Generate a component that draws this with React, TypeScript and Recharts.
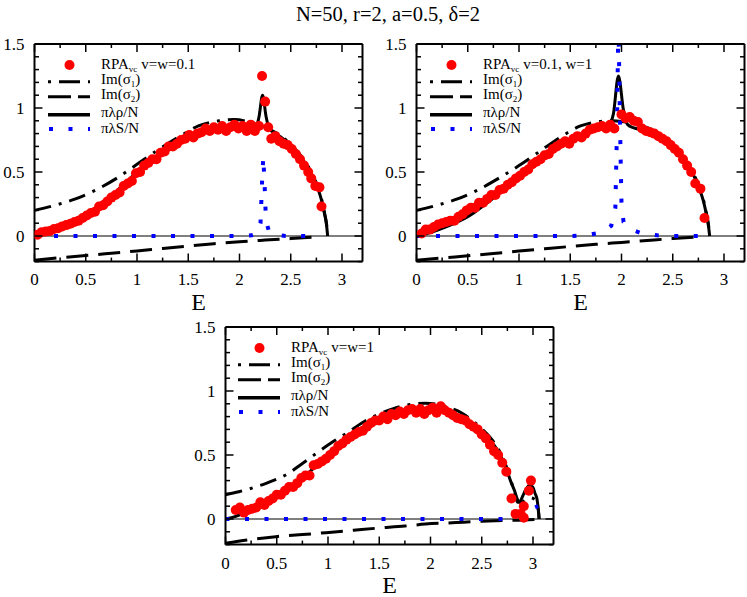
import React from "react";
import {
  ComposedChart, Line, Scatter, XAxis, YAxis, ReferenceLine, Legend,
} from "recharts";

const RED = "#ff0000";
const BLUE = "#0000ff";
const FONT = '"Liberation Serif", Tinos, "Times New Roman", Times, serif';

const X_TICKS = [0, 0.25, 0.5, 0.75, 1, 1.25, 1.5, 1.75, 2, 2.25, 2.5, 2.75, 3];
const Y_TICKS = [-0.2, -0.1, 0, 0.1, 0.2, 0.3, 0.4, 0.5, 0.6, 0.7, 0.8, 0.9, 1, 1.1, 1.2, 1.3, 1.4, 1.5];

// ---- panel 1: v=w=0.1 ----
const rpaA = [
  [0.03, 0.01], [0.07, 0.03], [0.11, 0.035], [0.15, 0.04], [0.19, 0.055], [0.23, 0.06], [0.27, 0.075],
  [0.31, 0.085], [0.35, 0.095], [0.39, 0.11], [0.43, 0.12], [0.47, 0.14], [0.51, 0.16], [0.55, 0.18],
  [0.59, 0.19], [0.63, 0.23], [0.67, 0.24], [0.71, 0.27], [0.75, 0.3], [0.79, 0.32], [0.83, 0.34],
  [0.87, 0.39], [0.91, 0.41], [0.95, 0.43], [0.99, 0.49], [1.03, 0.5], [1.07, 0.55], [1.11, 0.57],
  [1.15, 0.6], [1.19, 0.6], [1.23, 0.65], [1.27, 0.66], [1.31, 0.7], [1.35, 0.7], [1.39, 0.72],
  [1.43, 0.75], [1.47, 0.76], [1.51, 0.79], [1.55, 0.77], [1.59, 0.8], [1.63, 0.81], [1.67, 0.84],
  [1.71, 0.82], [1.75, 0.85], [1.79, 0.83], [1.83, 0.86], [1.87, 0.82], [1.91, 0.85], [1.95, 0.87],
  [1.99, 0.84], [2.03, 0.86], [2.07, 0.82], [2.11, 0.87], [2.15, 0.82], [2.19, 0.86], [2.22, 1.25],
  [2.25, 1.05], [2.28, 0.85], [2.31, 0.76], [2.35, 0.78], [2.39, 0.74], [2.43, 0.72], [2.47, 0.71],
  [2.51, 0.68], [2.55, 0.64], [2.59, 0.6], [2.63, 0.55], [2.67, 0.5], [2.7, 0.45], [2.74, 0.39],
  [2.78, 0.38], [2.8, 0.23],
];
const sigma1A = [
  [0, 0.2], [0.2, 0.24], [0.4, 0.29], [0.6, 0.36], [0.8, 0.45], [1.0, 0.56], [1.2, 0.67], [1.4, 0.77],
  [1.6, 0.86], [1.8, 0.9], [1.95, 0.91], [2.1, 0.89], [2.2, 0.865], [2.3, 0.83], [2.4, 0.785],
  [2.5, 0.715], [2.6, 0.625], [2.7, 0.5], [2.76, 0.39], [2.8, 0.29], [2.83, 0.18], [2.85, 0.09], [2.86, 0],
];
const sigma2A = [
  [0, -0.19], [0.25, -0.17], [0.5, -0.153], [0.75, -0.135], [1.0, -0.117], [1.25, -0.097],
  [1.5, -0.078], [1.75, -0.06], [2.0, -0.045], [2.25, -0.032], [2.5, -0.02], [2.78, -0.006],
];
const rhoA = [
  [0, 0], [0.1, 0.02], [0.2, 0.045], [0.3, 0.077], [0.4, 0.112], [0.5, 0.155], [0.6, 0.222],
  [0.7, 0.287], [0.8, 0.35], [0.9, 0.425], [1.0, 0.5], [1.1, 0.57], [1.2, 0.632], [1.3, 0.685],
  [1.4, 0.73], [1.5, 0.768], [1.6, 0.8], [1.7, 0.83], [1.8, 0.85], [1.9, 0.86], [2.0, 0.862],
  [2.1, 0.857], [2.16, 0.85], [2.19, 0.93], [2.225, 1.1], [2.26, 0.93], [2.29, 0.84], [2.35, 0.8],
  [2.4, 0.775], [2.5, 0.705], [2.6, 0.615], [2.7, 0.49], [2.76, 0.38], [2.8, 0.28], [2.83, 0.17],
  [2.85, 0.08], [2.86, 0],
];
const specA = [
  [0, 0], [0.5, 0], [1.0, 0], [1.5, 0], [2.0, 0], [2.12, 0.005], [2.18, 0.02], [2.205, 0.1],
  [2.22, 0.42], [2.232, 0.62], [2.245, 0.4], [2.258, 0.12], [2.29, 0.03], [2.35, 0.01], [2.45, 0], [2.72, 0],
];

// ---- panel 2: v=0.1, w=1 ----
const rpaB = [
  [0.05, 0.02], [0.09, 0.05], [0.13, 0.05], [0.17, 0.07], [0.21, 0.09], [0.25, 0.1], [0.29, 0.11],
  [0.33, 0.12], [0.37, 0.12], [0.41, 0.15], [0.45, 0.17], [0.49, 0.2], [0.53, 0.22], [0.57, 0.22],
  [0.61, 0.26], [0.65, 0.26], [0.69, 0.29], [0.73, 0.32], [0.77, 0.32], [0.81, 0.36], [0.85, 0.37],
  [0.89, 0.4], [0.93, 0.42], [0.97, 0.45], [1.01, 0.47], [1.05, 0.5], [1.09, 0.52], [1.13, 0.56],
  [1.17, 0.58], [1.21, 0.6], [1.25, 0.63], [1.29, 0.64], [1.33, 0.68], [1.37, 0.7], [1.41, 0.72],
  [1.45, 0.74], [1.49, 0.72], [1.53, 0.76], [1.57, 0.78], [1.61, 0.77], [1.65, 0.8], [1.69, 0.83],
  [1.73, 0.84], [1.77, 0.85], [1.81, 0.86], [1.85, 0.84], [1.89, 0.87], [1.93, 0.84], [2.0, 0.95],
  [2.04, 0.92], [2.08, 0.93], [2.12, 0.9], [2.16, 0.89], [2.2, 0.84], [2.24, 0.82], [2.28, 0.81],
  [2.32, 0.8], [2.36, 0.78], [2.4, 0.76], [2.44, 0.74], [2.48, 0.71], [2.52, 0.68], [2.56, 0.65],
  [2.6, 0.6], [2.64, 0.55], [2.68, 0.5], [2.72, 0.41], [2.77, 0.37], [2.81, 0.14],
];
const sigma1B = [
  [0, 0.2], [0.2, 0.24], [0.4, 0.29], [0.6, 0.36], [0.8, 0.45], [1.0, 0.55], [1.2, 0.66], [1.4, 0.77],
  [1.6, 0.86], [1.75, 0.89], [1.9, 0.9], [2.0, 0.895], [2.1, 0.88], [2.2, 0.86], [2.3, 0.83],
  [2.4, 0.78], [2.5, 0.71], [2.6, 0.62], [2.7, 0.49], [2.76, 0.38], [2.8, 0.28], [2.83, 0.17],
  [2.85, 0.08], [2.86, 0],
];
const sigma2B = [
  [0, -0.19], [0.25, -0.172], [0.5, -0.155], [0.75, -0.137], [1.0, -0.118], [1.25, -0.1],
  [1.5, -0.082], [1.75, -0.065], [2.0, -0.05], [2.25, -0.035], [2.5, -0.02], [2.78, -0.005],
];
const rhoB = [
  [0, 0], [0.1, 0.02], [0.2, 0.045], [0.3, 0.075], [0.4, 0.11], [0.5, 0.15], [0.6, 0.205],
  [0.7, 0.265], [0.8, 0.33], [0.9, 0.4], [1.0, 0.47], [1.1, 0.54], [1.2, 0.6], [1.3, 0.655],
  [1.4, 0.7], [1.5, 0.74], [1.6, 0.78], [1.7, 0.815], [1.8, 0.84], [1.87, 0.86], [1.92, 0.95],
  [1.97, 1.25], [2.02, 0.98], [2.06, 0.87], [2.12, 0.845], [2.2, 0.83], [2.3, 0.8], [2.4, 0.76],
  [2.5, 0.7], [2.6, 0.61], [2.7, 0.48], [2.76, 0.37], [2.8, 0.27], [2.83, 0.16], [2.85, 0.07], [2.86, 0],
];
const specB = [
  [0, 0], [0.5, 0], [1.0, 0], [1.5, 0], [1.65, 0.005], [1.75, 0.02], [1.85, 0.05], [1.9, 0.08],
  [1.94, 0.22], [1.955, 0.8], [1.97, 1.7], [1.985, 0.9], [2.0, 0.25], [2.02, 0.11], [2.1, 0.05],
  [2.2, 0.02], [2.35, 0.005], [2.5, 0], [2.75, 0],
];

// ---- panel 3: v=w=1 ----
const rpaC = [
  [0.1, 0.07], [0.14, 0.09], [0.18, 0.05], [0.22, 0.07], [0.26, 0.08], [0.3, 0.09], [0.34, 0.13],
  [0.38, 0.11], [0.42, 0.14], [0.46, 0.16], [0.5, 0.19], [0.54, 0.19], [0.58, 0.22], [0.62, 0.25],
  [0.66, 0.25], [0.7, 0.28], [0.74, 0.32], [0.78, 0.34], [0.82, 0.34], [0.86, 0.42], [0.9, 0.43],
  [0.94, 0.45], [0.98, 0.47], [1.02, 0.5], [1.06, 0.53], [1.1, 0.57], [1.14, 0.59], [1.18, 0.62],
  [1.22, 0.64], [1.26, 0.66], [1.3, 0.68], [1.34, 0.69], [1.38, 0.72], [1.42, 0.75], [1.46, 0.77],
  [1.5, 0.77], [1.54, 0.8], [1.58, 0.78], [1.62, 0.82], [1.66, 0.81], [1.7, 0.84], [1.74, 0.82],
  [1.78, 0.85], [1.82, 0.86], [1.86, 0.83], [1.9, 0.86], [1.94, 0.82], [1.98, 0.85], [2.02, 0.87],
  [2.06, 0.83], [2.1, 0.88], [2.14, 0.85], [2.18, 0.83], [2.22, 0.81], [2.26, 0.79], [2.3, 0.78],
  [2.34, 0.77], [2.38, 0.74], [2.42, 0.72], [2.46, 0.7], [2.5, 0.66], [2.54, 0.63], [2.58, 0.58],
  [2.62, 0.53], [2.66, 0.5], [2.7, 0.44], [2.74, 0.37], [2.79, 0.16], [2.83, 0.04], [2.88, 0.04],
  [2.91, 0.1], [2.91, 0.01], [2.96, 0.22], [2.98, 0.3],
];
const sigma1C = [
  [0, 0.19], [0.13, 0.213], [0.39, 0.277], [0.6, 0.35], [0.75, 0.434], [1.04, 0.6], [1.2, 0.68],
  [1.37, 0.77], [1.5, 0.82], [1.63, 0.86], [1.8, 0.895], [1.95, 0.905], [2.1, 0.89], [2.2, 0.865],
  [2.3, 0.83], [2.4, 0.775], [2.5, 0.705], [2.6, 0.62], [2.68, 0.52], [2.74, 0.41], [2.78, 0.31],
  [2.82, 0.21], [2.85, 0.13], [2.88, 0.13], [2.93, 0.15], [2.98, 0.165], [3.02, 0.15], [3.05, 0.08], [3.06, 0],
];
const sigma2C = [
  [0, -0.19], [0.25, -0.16], [0.49, -0.138], [0.75, -0.122], [0.98, -0.107], [1.25, -0.088],
  [1.46, -0.073], [1.75, -0.055], [1.95, -0.04], [2.25, -0.028], [2.5, -0.018], [2.7, -0.012],
  [2.9, -0.008], [3.06, -0.002],
];
const rhoC = [
  [0, 0], [0.1, 0.02], [0.2, 0.058], [0.3, 0.095], [0.4, 0.14], [0.5, 0.18], [0.6, 0.232],
  [0.7, 0.29], [0.8, 0.355], [0.9, 0.425], [1.0, 0.5], [1.1, 0.57], [1.2, 0.635], [1.3, 0.69],
  [1.4, 0.74], [1.5, 0.78], [1.6, 0.815], [1.7, 0.838], [1.8, 0.853], [1.9, 0.862], [2.0, 0.862],
  [2.1, 0.85], [2.2, 0.83], [2.3, 0.8], [2.4, 0.745], [2.5, 0.68], [2.6, 0.6], [2.68, 0.5],
  [2.74, 0.39], [2.78, 0.3], [2.82, 0.22], [2.85, 0.15], [2.87, 0.135], [2.9, 0.18], [2.93, 0.23],
  [2.97, 0.265], [3.0, 0.245], [3.02, 0.2], [3.04, 0.15], [3.055, 0.05], [3.06, 0],
];
const specC = [
  [0, 0], [0.5, 0], [1.0, 0], [1.5, 0], [2.0, 0], [2.5, 0], [2.75, 0], [2.82, 0.02],
  [2.88, 0.045], [2.95, 0.065], [3.02, 0.09], [3.05, 0.1],
];

const pts = (a: number[][]) => a.map(([x, y]) => ({ x, y }));
const isMajor = (v: number) => Math.abs(v * 2 - Math.round(v * 2)) < 1e-6;
const fmt = (v: number) => (Math.abs(v) < 1e-9 ? "0" : String(v));

// plot geometry (same for the three panels)
const PLOT_L = 34.5;
const PLOT_T = 44;
const PLOT_W = 328;
const PLOT_H = 217.6;
const BOTTOM_H = 56;
const CHART_W = 370;
const CHART_H = PLOT_T + PLOT_H + BOTTOM_H;

const textStyle = { fontFamily: FONT };

function BottomTick({ x, y, payload, labelDy }: any) {
  const v = payload.value;
  const major = isMajor(v);
  return (
    <g>
      <line x1={x} x2={x} y1={y} y2={y - (major ? 8 : 4)} stroke="#000" strokeWidth={1.5} />
      {major && (
        <text x={x} y={y + labelDy} textAnchor="middle" fontSize={17} style={textStyle} fill="#000">
          {fmt(v)}
        </text>
      )}
    </g>
  );
}

function TopTick({ x, y, payload }: any) {
  const major = isMajor(payload.value);
  return <line x1={x} x2={x} y1={y} y2={y + (major ? 8 : 4)} stroke="#000" strokeWidth={1.5} />;
}

function LeftTick({ x, y, payload }: any) {
  const v = payload.value;
  const major = isMajor(v);
  return (
    <g>
      <line x1={x} x2={x + (major ? 8 : 4.5)} y1={y} y2={y} stroke="#000" strokeWidth={1.5} />
      {major && (
        <text x={x - 10} y={y} dy="0.35em" textAnchor="end" fontSize={17} style={textStyle} fill="#000">
          {fmt(v)}
        </text>
      )}
    </g>
  );
}

function RightTick({ x, y, payload }: any) {
  const major = isMajor(payload.value);
  return <line x1={x} x2={x - (major ? 8 : 4.5)} y1={y} y2={y} stroke="#000" strokeWidth={1.5} />;
}

const Dot = ({ cx, cy }: any) => <circle cx={cx} cy={cy} r={5} fill={RED} />;

const DASHDOT = "17 8 3 8";
const DASHED = "22 10";
const DOTTED = "4 15.5";

function PanelLegend({ note }: { note: string }) {
  const txt = { fontSize: 15, style: textStyle, fill: "#000" };
  return (
    <svg width={220} height={100} style={{ overflow: "visible" }}>
      <circle cx={34.5} cy={21} r={5} fill={RED} />
      <text x={66} y={25} {...txt}>
        RPA<tspan dy={3} fontSize={9}>vc</tspan>
        <tspan dy={-3} dx={4}>{note}</tspan>
      </text>
      <line x1={13} x2={55} y1={37.7} y2={37.7} stroke="#000" strokeWidth={3} strokeDasharray="3 8 21 8" />
      <text x={66} y={39.5} {...txt}>
        Im(σ<tspan dy={3} fontSize={9}>1</tspan><tspan dy={-3}>)</tspan>
      </text>
      <line x1={13} x2={55} y1={52.7} y2={52.7} stroke="#000" strokeWidth={3} strokeDasharray="23 7" />
      <text x={66} y={55} {...txt}>
        Im(σ<tspan dy={3} fontSize={9}>2</tspan><tspan dy={-3}>)</tspan>
      </text>
      <line x1={13} x2={55} y1={70.7} y2={70.7} stroke="#000" strokeWidth={3.5} />
      <text x={66} y={72.7} {...txt}>πλρ/N</text>
      <line x1={14} x2={55} y1={85} y2={85} stroke={BLUE} strokeWidth={4} strokeDasharray={DOTTED} />
      <text x={66} y={89.3} {...txt}>πλS/N</text>
    </svg>
  );
}

interface PanelProps {
  rpa: number[][];
  sigma1: number[][];
  sigma2: number[][];
  rho: number[][];
  spec: number[][];
  note: string;
  labelDy: number;
}

function Panel({ rpa, sigma1, sigma2, rho, spec, note, labelDy }: PanelProps) {
  return (
    <ComposedChart
      width={CHART_W}
      height={CHART_H}
      margin={{ top: PLOT_T - 1, right: CHART_W - PLOT_L - PLOT_W - 1, bottom: 0, left: 0 }}
      style={textStyle}
    >
      <XAxis
        xAxisId="b" dataKey="x" type="number" domain={[0, 3.2]} allowDataOverflow
        ticks={X_TICKS} interval={0} tickSize={0} tickMargin={0} tickLine={false}
        tick={(p: any) => <BottomTick {...p} labelDy={labelDy} />}
        axisLine={{ stroke: "#000", strokeWidth: 2 }} height={BOTTOM_H}
        label={{ value: "E", position: "insideBottom", offset: BOTTOM_H - 48.5, fontSize: 24, fill: "#000", style: textStyle }}
      />
      <XAxis
        xAxisId="t" orientation="top" dataKey="x" type="number" domain={[0, 3.2]} allowDataOverflow
        ticks={X_TICKS} interval={0} tickSize={0} tickMargin={0} tickLine={false}
        tick={(p: any) => <TopTick {...p} />}
        axisLine={{ stroke: "#000", strokeWidth: 2 }} height={1}
      />
      <YAxis
        yAxisId="l" dataKey="y" type="number" domain={[-0.2, 1.5]} allowDataOverflow
        ticks={Y_TICKS} interval={0} tickSize={0} tickMargin={0} tickLine={false}
        tick={(p: any) => <LeftTick {...p} />}
        axisLine={{ stroke: "#000", strokeWidth: 2 }} width={PLOT_L}
      />
      <YAxis
        yAxisId="r" orientation="right" dataKey="y" type="number" domain={[-0.2, 1.5]} allowDataOverflow
        ticks={Y_TICKS} interval={0} tickSize={0} tickMargin={0} tickLine={false}
        tick={(p: any) => <RightTick {...p} />}
        axisLine={{ stroke: "#000", strokeWidth: 2 }} width={1}
      />
      <ReferenceLine xAxisId="b" yAxisId="l" y={0} stroke="#000" strokeWidth={1.2} />
      <Scatter xAxisId="b" yAxisId="l" data={pts(rpa)} fill={RED} shape={Dot} isAnimationActive={false} />
      <Line
        xAxisId="b" yAxisId="l" data={pts(sigma1)} dataKey="y" type="monotone"
        stroke="#000" strokeWidth={3} strokeDasharray={DASHDOT} dot={false} activeDot={false}
        isAnimationActive={false}
      />
      <Line
        xAxisId="b" yAxisId="l" data={pts(sigma2)} dataKey="y" type="monotone"
        stroke="#000" strokeWidth={3} strokeDasharray={DASHED} dot={false} activeDot={false}
        isAnimationActive={false}
      />
      <Line
        xAxisId="b" yAxisId="l" data={pts(rho)} dataKey="y" type="monotone"
        stroke="#000" strokeWidth={3} dot={false} activeDot={false} isAnimationActive={false}
      />
      <Line
        xAxisId="b" yAxisId="l" data={pts(spec)} dataKey="y" type="linear"
        stroke={BLUE} strokeWidth={4} strokeDasharray={DOTTED} dot={false} activeDot={false}
        isAnimationActive={false}
      />
      <Legend
        layout="horizontal" align="center" verticalAlign="middle"
        wrapperStyle={{ left: PLOT_L, top: PLOT_T, width: 220, height: 100 }}
        content={() => <PanelLegend note={note} />}
      />
    </ComposedChart>
  );
}

export default function App() {
  return (
    <div
      style={{
        position: "absolute", left: 0, top: 0, width: 747, height: 597,
        overflow: "hidden", background: "#fff", fontFamily: FONT,
      }}
    >
      <svg width={747} height={30} style={{ position: "absolute", left: 0, top: 0 }}>
        <text x={388} y={21} textAnchor="middle" fontSize={20.5} style={textStyle} fill="#000">
          N=50, r=2, a=0.5, δ=2
        </text>
      </svg>
      <div style={{ position: "absolute", left: 0, top: 0 }}>
        <Panel rpa={rpaA} sigma1={sigma1A} sigma2={sigma2A} rho={rhoA} spec={specA} note="v=w=0.1" labelDy={23} />
      </div>
      <div style={{ position: "absolute", left: 416.7 - PLOT_L, top: 0 }}>
        <Panel rpa={rpaB} sigma1={sigma1B} sigma2={sigma2B} rho={rhoB} spec={specB} note="v=0.1, w=1" labelDy={23} />
      </div>
      <div style={{ position: "absolute", left: 225 - PLOT_L, top: 326.7 - PLOT_T }}>
        <Panel rpa={rpaC} sigma1={sigma1C} sigma2={sigma2C} rho={rhoC} spec={specC} note="v=w=1" labelDy={24} />
      </div>
    </div>
  );
}
